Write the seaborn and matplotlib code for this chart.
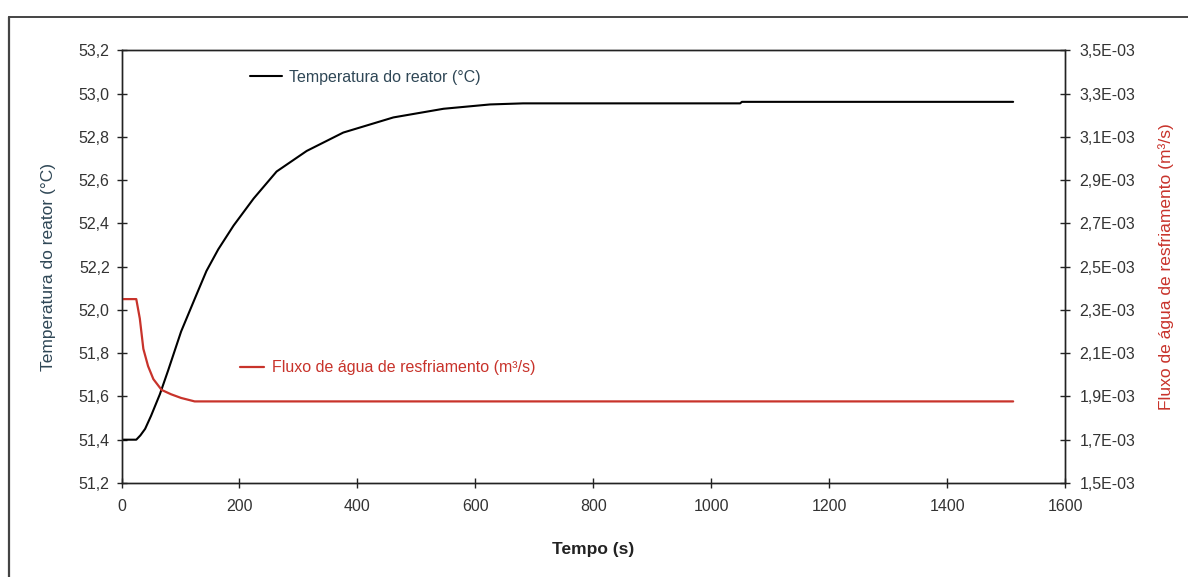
import matplotlib
matplotlib.use("Agg")
import matplotlib.pyplot as plt
from matplotlib.ticker import MultipleLocator, FixedLocator, FuncFormatter
from matplotlib.lines import Line2D
import seaborn as sns
import pandas as pd

# ---- data ----
temp_time = [0, 25, 32, 40, 50, 65, 79, 90, 101, 127, 144, 164, 190, 224, 263, 314,
             376, 461, 546, 625, 681, 1049, 1052, 1512]
temp_vals = [51.40, 51.40, 51.42, 51.45, 51.51, 51.61, 51.72, 51.81, 51.90, 52.07,
             52.18, 52.28, 52.39, 52.515, 52.64, 52.735, 52.82, 52.89, 52.93, 52.95,
             52.955, 52.955, 52.962, 52.962]

flow_time = [0, 25, 31, 37, 45, 54, 68, 84, 101, 124, 1512]
flow_vals = [2.35e-3, 2.35e-3, 2.26e-3, 2.12e-3, 2.04e-3, 1.98e-3, 1.93e-3,
             1.91e-3, 1.893e-3, 1.877e-3, 1.877e-3]

flow_ticks = [1.5e-3, 1.7e-3, 1.9e-3, 2.1e-3, 2.3e-3, 2.5e-3, 2.7e-3, 2.9e-3,
              3.1e-3, 3.3e-3, 3.5e-3]

temp_label = "Temperatura do reator (°C)"
flow_label = "Fluxo de água de resfriamento (m³/s)"
x_label = "Tempo (s)"

sns.set_theme(style="white")
plt.rcParams["font.family"] = ["Liberation Sans", "DejaVu Sans"]

RED = "#C8332B"
SLATE = "#2F4756"
TICK = "#333333"

fig = plt.figure(figsize=(11.88, 5.77), dpi=100)
ax = fig.add_axes([0.1023, 0.163, 0.7942, 0.7497])
ax2 = ax.twinx()

df_t = pd.DataFrame({"t": temp_time, "v": temp_vals})
df_f = pd.DataFrame({"t": flow_time, "v": flow_vals})

sns.lineplot(data=df_t, x="t", y="v", ax=ax, color="black", linewidth=1.5,
             label=temp_label, legend=False)
sns.lineplot(data=df_f, x="t", y="v", ax=ax2, color=RED, linewidth=1.6,
             label=flow_label, legend=False)

ax.set_xlim(0, 1600)
ax.set_ylim(51.2, 53.2)
ax2.set_ylim(flow_ticks[0], flow_ticks[-1])
ax.xaxis.set_major_locator(MultipleLocator(200))
ax.yaxis.set_major_locator(MultipleLocator(0.2))
ax2.yaxis.set_major_locator(FixedLocator(flow_ticks))
ax.yaxis.set_major_formatter(FuncFormatter(lambda v, p: f"{v:.1f}".replace(".", ",")))
ax.xaxis.set_major_formatter(FuncFormatter(lambda v, p: f"{v:.0f}"))
ax2.yaxis.set_major_formatter(
    FuncFormatter(lambda v, p: f"{v*1000:.1f}E-03".replace(".", ",")))

for a in (ax, ax2):
    for s in a.spines.values():
        s.set_color("#222222")
        s.set_linewidth(1.0)
    a.grid(False)

ax.tick_params(axis="both", direction="inout", length=7, width=1.0,
               colors="#222222", labelcolor=TICK, labelsize=11.5)
ax.tick_params(axis="y", pad=5)
ax.tick_params(axis="x", pad=8)
ax.tick_params(axis="y", left=True, right=False)
ax.tick_params(axis="x", bottom=True, top=False)
ax2.tick_params(axis="y", direction="inout", length=7, width=1.0,
                colors="#222222", labelcolor=TICK, labelsize=11.5, pad=7,
                right=True, left=False)

ax.set_ylabel(temp_label, fontsize=12.5, color=SLATE, labelpad=16)
ax2.set_ylabel(flow_label, fontsize=12.5, color=RED, labelpad=16)
ax.set_xlabel(x_label, fontsize=12.5, color="#222222", labelpad=20,
              fontweight="bold")

h_t = ax.get_lines()[0]
h_f = ax2.get_lines()[0]
leg1 = ax.legend(handles=[h_t], labels=[temp_label], loc="center left",
                 bbox_to_anchor=(0.136, 0.938), frameon=False, handlelength=2.0,
                 handletextpad=0.45, borderpad=0, borderaxespad=0, fontsize=11.5,
                 labelcolor=SLATE)
leg2 = ax2.legend(handles=[h_f], labels=[flow_label], loc="center left",
                  bbox_to_anchor=(0.126, 0.266), frameon=False, handlelength=1.5,
                  handletextpad=0.45, borderpad=0, borderaxespad=0, fontsize=11.5,
                  labelcolor=RED)

# outer frame of the chart area (left and top edges visible in the reference)
fig.add_artist(Line2D([0.0075, 0.0075], [0.0, 0.9714], color="#444444",
                      linewidth=1.6, transform=fig.transFigure))
fig.add_artist(Line2D([0.0075, 1.0], [0.9714, 0.9714], color="#444444",
                      linewidth=1.4, transform=fig.transFigure))

fig.savefig("out.png", dpi=100)
